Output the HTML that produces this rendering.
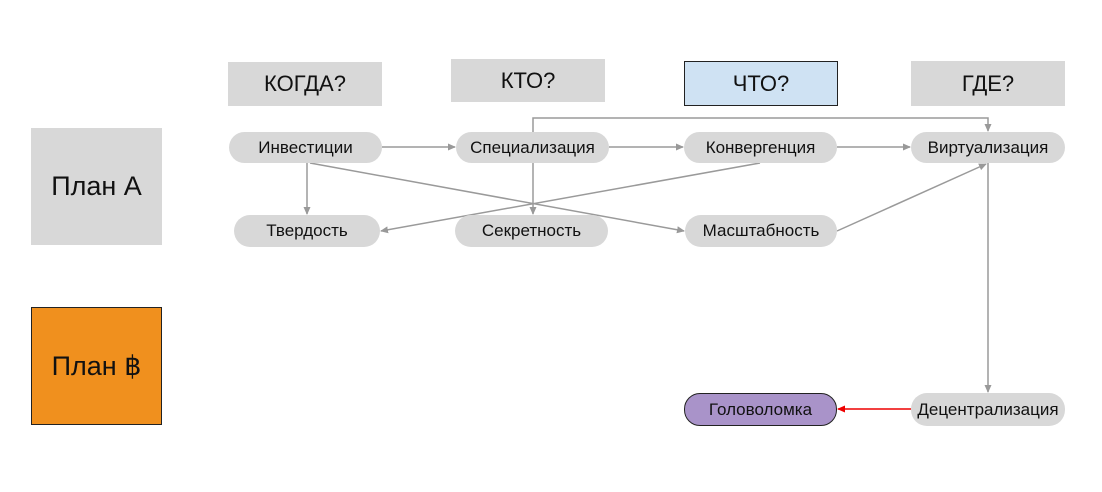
<!DOCTYPE html>
<html><head><meta charset="utf-8"><style>
body{margin:0;width:1102px;height:492px;background:#fff;position:relative;font-family:"Liberation Sans",sans-serif;overflow:hidden}
.b{position:absolute;display:flex;align-items:center;justify-content:center;box-sizing:border-box;color:#111}
.h{background:#d8d8d8;font-size:22px}
.p{background:#d8d8d8;border-radius:16px;font-size:17px}
svg{position:absolute;left:0;top:0}
</style></head><body>
<svg width="1102" height="492">
<defs>
<marker id="a" markerWidth="8" markerHeight="8" refX="7" refY="4" orient="auto" markerUnits="userSpaceOnUse"><path d="M0,0.5 L8,4 L0,7.5z" fill="#999"/></marker>
<marker id="r" markerWidth="8" markerHeight="8" refX="7" refY="4" orient="auto" markerUnits="userSpaceOnUse"><path d="M0,0.5 L8,4 L0,7.5z" fill="#e00"/></marker>
</defs>
<g stroke="#9a9a9a" stroke-width="1.5" fill="none">
<line x1="382" y1="147" x2="455" y2="147" marker-end="url(#a)"/>
<line x1="609" y1="147" x2="683" y2="147" marker-end="url(#a)"/>
<line x1="837" y1="147" x2="910" y2="147" marker-end="url(#a)"/>
<polyline points="533,132 533,118 988,118 988,131" marker-end="url(#a)"/>
<polyline points="307,163 307,214" marker-end="url(#a)"/>
<line x1="310" y1="163" x2="684" y2="231" marker-end="url(#a)"/>
<line x1="760" y1="163" x2="381" y2="231" marker-end="url(#a)"/>
<line x1="533" y1="163" x2="533" y2="214" marker-end="url(#a)"/>
<line x1="837" y1="231" x2="986" y2="164" marker-end="url(#a)"/>
<line x1="988" y1="163" x2="988" y2="392" marker-end="url(#a)"/>
</g>
<line x1="911" y1="409" x2="838" y2="409" stroke="#e00" stroke-width="1.5" marker-end="url(#r)"/>
</svg>
<div class="b h" style="left:228px;top:62px;width:154px;height:44px">КОГДА?</div>
<div class="b h" style="left:451px;top:59px;width:154px;height:43px">КТО?</div>
<div class="b h" style="left:684px;top:61px;width:154px;height:45px;background:#cfe2f3;border:1.5px solid #222">ЧТО?</div>
<div class="b h" style="left:911px;top:61px;width:154px;height:45px">ГДЕ?</div>
<div class="b" style="left:31px;top:128px;width:131px;height:117px;background:#d8d8d8;font-size:27px">План А</div>
<div class="b" style="left:31px;top:307px;width:131px;height:118px;background:#f0901e;border:1.5px solid #222;font-size:27px">План ฿</div>
<div class="b p" style="left:229px;top:132px;width:153px;height:31px">Инвестиции</div>
<div class="b p" style="left:456px;top:132px;width:153px;height:31px">Специализация</div>
<div class="b p" style="left:684px;top:132px;width:153px;height:31px">Конвергенция</div>
<div class="b p" style="left:911px;top:132px;width:154px;height:31px">Виртуализация</div>
<div class="b p" style="left:234px;top:215px;width:146px;height:32px">Твердость</div>
<div class="b p" style="left:455px;top:215px;width:153px;height:32px">Секретность</div>
<div class="b p" style="left:685px;top:215px;width:152px;height:32px">Масштабность</div>
<div class="b p" style="left:684px;top:393px;width:153px;height:33px;background:#a993c9;border:1.5px solid #222">Головоломка</div>
<div class="b p" style="left:911px;top:393px;width:154px;height:33px">Децентрализация</div>
</body></html>
